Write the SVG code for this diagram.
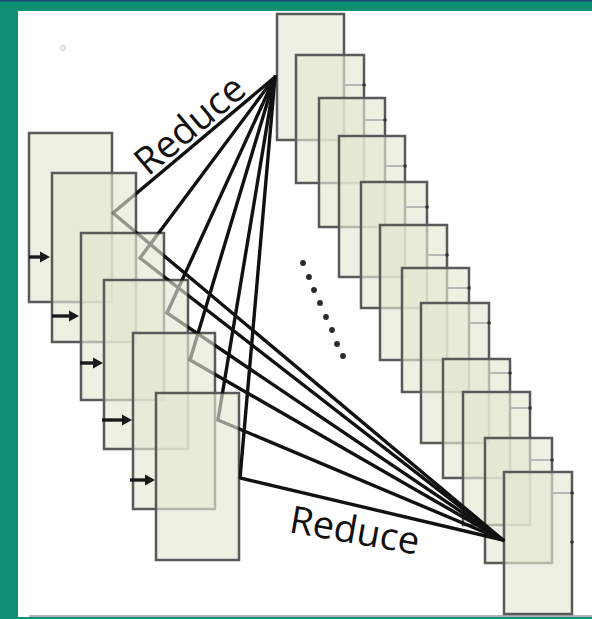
<svg xmlns="http://www.w3.org/2000/svg" width="592" height="619" viewBox="0 0 592 619">
  <style>
    .box { fill: #e4e8d2; fill-opacity: .65; stroke: #5a5a5a; stroke-width: 2.5; }
    .fan { stroke: #111; stroke-width: 3.4; fill: none; stroke-linecap: round; }
    .push { stroke: #1a1a1a; stroke-width: 3.4; marker-end: url(#head); }
    .feed { stroke: #b9b9b9; stroke-width: 2; marker-end: url(#port); }
    .dot { fill: #2a2a2a; }
    .label { font-family: "Open Sans", "Noto Sans", "DejaVu Sans", sans-serif; font-size: 38px; fill: #111; }
  </style>
  <defs>
    <marker id="head" markerUnits="userSpaceOnUse" markerWidth="12" markerHeight="12" refX="2" refY="6" orient="auto">
      <path d="M0,0.5 L10,6 L0,11.5 Z" fill="#1a1a1a"/>
    </marker>
    <marker id="port" markerUnits="userSpaceOnUse" markerWidth="6" markerHeight="6" refX="3" refY="3" orient="auto">
      <circle cx="3" cy="3" r="1.8" fill="#333"/>
    </marker>
    <!-- fan lines fade where they run behind the left stack -->
    <mask id="veil" maskUnits="userSpaceOnUse" x="0" y="0" width="592" height="619">
      <rect width="592" height="619" fill="#fff"/>
      <g fill="#000" fill-opacity=".6">
        <rect x="29" y="133" width="83" height="169"/>
        <rect x="52" y="173" width="84" height="169"/>
        <rect x="81" y="233" width="83" height="167"/>
        <rect x="104" y="280" width="84" height="169"/>
        <rect x="133" y="333" width="82" height="176"/>
        <rect x="156" y="393" width="83" height="167"/>
      </g>
    </mask>
  </defs>

  <!-- frame -->
  <rect width="592" height="619" fill="#0f9074"/>
  <rect x="0" y="0" width="592" height="1.5" fill="#1d4a78"/>
  <rect x="18" y="11" width="574" height="606" fill="#fff"/>
  <line x1="29" y1="616" x2="592" y2="616" stroke="#9a9a9a" stroke-width="1.5"/>
  <circle cx="63" cy="48" r="2.3" fill="none" stroke="#bdbdbd" stroke-width="1"/>

  <!-- right stack, back to front -->
  <g id="r1"><rect class="box" x="277" y="14" width="67" height="126"/></g>
  <g id="r2"><rect class="box" x="296" y="55" width="68" height="128"/></g>
  <g id="r3"><rect class="box" x="319" y="98" width="66" height="129"/></g>
  <g id="r4"><rect class="box" x="339" y="136" width="66" height="141"/></g>
  <g id="r5"><rect class="box" x="361" y="182" width="66" height="126"/></g>
  <g id="r6"><rect class="box" x="380" y="225" width="67" height="135"/></g>
  <g id="r7"><rect class="box" x="402" y="268" width="67" height="124"/></g>
  <g id="r8"><rect class="box" x="421" y="303" width="68" height="140"/></g>
  <g id="r9"><rect class="box" x="443" y="359" width="67" height="119"/></g>
  <g id="r10"><rect class="box" x="463" y="392" width="67" height="133"/></g>
  <g id="r11"><rect class="box" x="485" y="438" width="67" height="125"/></g>
  <g id="r12"><rect class="box" x="504" y="472" width="68" height="142"/><circle cx="572" cy="542" r="1.8" fill="#333"/></g>

  <!-- left stack, back to front -->
  <g id="l1"><rect class="box" x="29" y="133" width="83" height="169"/></g>
  <g id="l2"><rect class="box" x="52" y="173" width="84" height="169"/></g>
  <g id="l3"><rect class="box" x="81" y="233" width="83" height="167"/></g>
  <g id="l4"><rect class="box" x="104" y="280" width="84" height="169"/></g>
  <g id="l5"><rect class="box" x="133" y="333" width="82" height="176"/></g>
  <g id="l6"><rect class="box" x="156" y="393" width="83" height="167"/></g>

  <!-- ellipsis between the stacks -->
  <g id="ellipsis" class="dot">
    <circle cx="303" cy="263" r="2.9"/>
    <circle cx="309" cy="277" r="2.9"/>
    <circle cx="314" cy="290" r="2.9"/>
    <circle cx="320" cy="303" r="2.9"/>
    <circle cx="326" cy="317" r="2.9"/>
    <circle cx="332" cy="330" r="2.9"/>
    <circle cx="337" cy="344" r="2.9"/>
    <circle cx="343" cy="356" r="2.9"/>
  </g>

  <g id="connectors">
    <!-- reduce fans: each left point joins both focal points -->
    <g mask="url(#veil)">
      <polyline class="fan" points="275,77 113,213 503,540"/>
      <polyline class="fan" points="275,77 140,258 503,540"/>
      <polyline class="fan" points="275,77 167,313 503,540"/>
      <polyline class="fan" points="275,77 190,360 503,540"/>
      <polyline class="fan" points="275,77 218,420 503,540"/>
      <polyline class="fan" points="275,77 240,478 503,540"/>
    </g>
    <!-- left stack hand-offs -->
    <line class="push" x1="29" y1="257" x2="42" y2="257"/>
    <line class="push" x1="52" y1="316" x2="71" y2="316"/>
    <line class="push" x1="80" y1="363" x2="95" y2="363"/>
    <line class="push" x1="102" y1="420" x2="124" y2="420"/>
    <line class="push" x1="130" y1="480" x2="147" y2="480"/>
    <!-- right stack feeds -->
    <line class="feed" x1="344" y1="85" x2="364" y2="85"/>
    <line class="feed" x1="364" y1="120" x2="385" y2="120"/>
    <line class="feed" x1="385" y1="166" x2="405" y2="166"/>
    <line class="feed" x1="405" y1="207" x2="427" y2="207"/>
    <line class="feed" x1="427" y1="255" x2="447" y2="255"/>
    <line class="feed" x1="447" y1="288" x2="469" y2="288"/>
    <line class="feed" x1="469" y1="323" x2="489" y2="323"/>
    <line class="feed" x1="489" y1="373" x2="510" y2="373"/>
    <line class="feed" x1="510" y1="408" x2="530" y2="408"/>
    <line class="feed" x1="530" y1="460" x2="552" y2="460"/>
    <line class="feed" x1="552" y1="493" x2="572" y2="493"/>
  </g>

  <text class="label" transform="translate(148,177) rotate(-40)">Reduce</text>
  <text class="label" transform="translate(288,532) rotate(10)">Reduce</text>
</svg>
